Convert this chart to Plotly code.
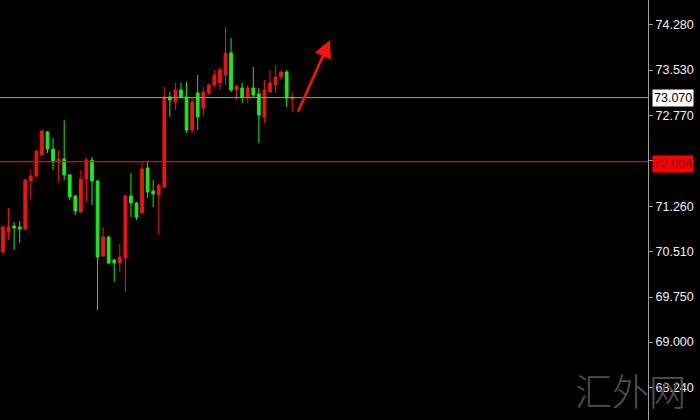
import plotly.graph_objects as go

# OHLC bars (red = rising, green = falling)
opens = [70.499, 70.833, 70.932, 70.916, 70.882, 71.682, 71.765, 72.115, 72.498, 72.215,
         71.998, 72.048, 71.782, 71.432, 71.166, 71.715, 72.031, 71.682, 70.433, 70.749,
         70.366, 70.316, 70.400, 71.432, 71.315, 71.149, 71.898, 71.515, 71.449, 71.582,
         73.081, 72.997, 73.197, 73.081, 72.531, 73.147, 72.897, 73.147, 73.280, 73.314,
         73.447, 73.813, 73.197, 73.231, 73.081, 73.231, 73.131, 72.748, 73.164, 73.280,
         73.414, 73.497, 73.047]
highs = [70.949, 71.232, 70.999, 71.016, 71.715, 71.865, 72.198, 72.531, 72.514, 72.398,
         72.198, 72.698, 71.798, 71.449, 71.865, 72.065, 72.081, 71.698, 70.916, 70.766,
         70.383, 70.633, 71.449, 71.815, 71.332, 72.015, 71.998, 71.698, 71.632, 73.247,
         73.164, 73.314, 73.314, 73.330, 73.081, 73.447, 73.247, 73.314, 73.530, 73.580,
         74.246, 74.063, 73.280, 73.314, 73.280, 73.580, 73.231, 73.364, 73.530, 73.614,
         73.530, 73.530, 73.164]
lows = [70.449, 70.699, 70.533, 70.649, 70.866, 71.365, 71.749, 72.100, 72.148, 71.865,
        71.649, 71.698, 71.365, 71.116, 71.149, 71.332, 71.282, 69.534, 70.416, 70.300,
        70.000, 70.166, 69.833, 71.082, 71.032, 71.132, 71.399, 71.249, 70.783, 71.565,
        72.748, 72.864, 73.064, 72.481, 72.481, 72.531, 72.748, 73.114, 73.247, 73.197,
        73.280, 73.164, 73.031, 72.981, 72.981, 73.081, 72.315, 72.648, 73.147, 73.147,
        73.364, 72.914, 72.831]
closes = [70.916, 70.916, 70.899, 70.882, 71.698, 71.765, 72.181, 72.514, 72.215, 71.998,
          72.048, 71.782, 71.415, 71.182, 71.715, 72.031, 71.682, 70.416, 70.749, 70.316,
          70.316, 70.416, 71.432, 71.315, 71.082, 71.882, 71.499, 71.465, 71.615, 73.081,
          73.031, 73.197, 73.081, 72.531, 72.997, 72.748, 73.164, 73.280, 73.447, 73.530,
          73.813, 73.197, 73.264, 73.081, 73.231, 73.114, 72.781, 73.197, 73.314, 73.414,
          73.497, 73.064, 73.081]
bars = list(range(len(opens)))

# price scale labels (the 72.020 mark sits under the level tag, so it carries no text)
tick_vals = [74.28, 73.53, 72.77, 72.02, 71.26, 70.51, 69.75, 69.00, 68.24]
tick_text = ["74.280", "73.530", "72.770", "", "71.260", "70.510", "69.750", "69.000", "68.240"]

current_price = 73.070
level_price = 72.004

# trend arrow (tail -> head), in bar index / price units
arrow_tail = (52.9, 72.81)
arrow_head = (58.8, 74.03)

UP = "#f21212"
DOWN = "#14ee14"

fig = go.Figure()
fig.add_trace(go.Candlestick(
    x=bars, open=opens, high=highs, low=lows, close=closes,
    increasing=dict(line=dict(color=UP, width=1), fillcolor=UP),
    decreasing=dict(line=dict(color=DOWN, width=1), fillcolor=DOWN),
    whiskerwidth=0, showlegend=False, hoverinfo="skip",
))

# horizontal price levels
fig.add_hline(y=current_price, line=dict(color="#9aa0aa", width=1))
fig.add_hline(y=level_price, line=dict(color="#ff0000", width=1.4))

# price tags on the scale
fig.add_annotation(xref="paper", x=1, xanchor="left", xshift=4, y=current_price, yref="y",
                   text="73.070", showarrow=False, bgcolor="#ffffff", borderpad=1,
                   font=dict(family="Liberation Sans", size=12.5, color="#000000"))
fig.add_annotation(xref="paper", x=1, xanchor="left", xshift=4, y=level_price, yref="y",
                   yshift=-2,
                   text="72.004", showarrow=False, bgcolor="#ff0000", borderpad=1,
                   font=dict(family="Liberation Sans", size=12.5, color="#6a0000"))

# arrow
fig.add_annotation(x=arrow_head[0], y=arrow_head[1], ax=arrow_tail[0], ay=arrow_tail[1],
                   xref="x", yref="y", axref="x", ayref="y", text="",
                   showarrow=True, arrowhead=2, arrowsize=1.4, arrowwidth=2.5,
                   arrowcolor="#ff1010")

# watermark
fig.add_annotation(xref="paper", yref="paper", x=0.973, y=0.071, xanchor="center",
                   yanchor="middle", text="汇外网", showarrow=False,
                   font=dict(family="Noto Sans CJK SC", size=37, color="#505050", weight=300))

fig.update_layout(
    width=700, height=420,
    margin=dict(l=0, r=52, t=0, b=0),
    paper_bgcolor="#000000", plot_bgcolor="#000000",
    showlegend=False,
    xaxis=dict(range=[-0.54, 115.96], visible=False, rangeslider=dict(visible=False),
               showgrid=False, zeroline=False),
    yaxis=dict(range=[67.702, 74.696], side="right", showgrid=False, zeroline=False,
               tickmode="array", tickvals=tick_vals, ticktext=tick_text,
               ticks="outside", ticklen=4, tickcolor="#a0a0a0",
               showline=True, linecolor="#a0a0a0", linewidth=1,
               tickfont=dict(family="Liberation Sans", size=12.5, color="#f0f0f0")),
)

fig.write_html("out.html")
